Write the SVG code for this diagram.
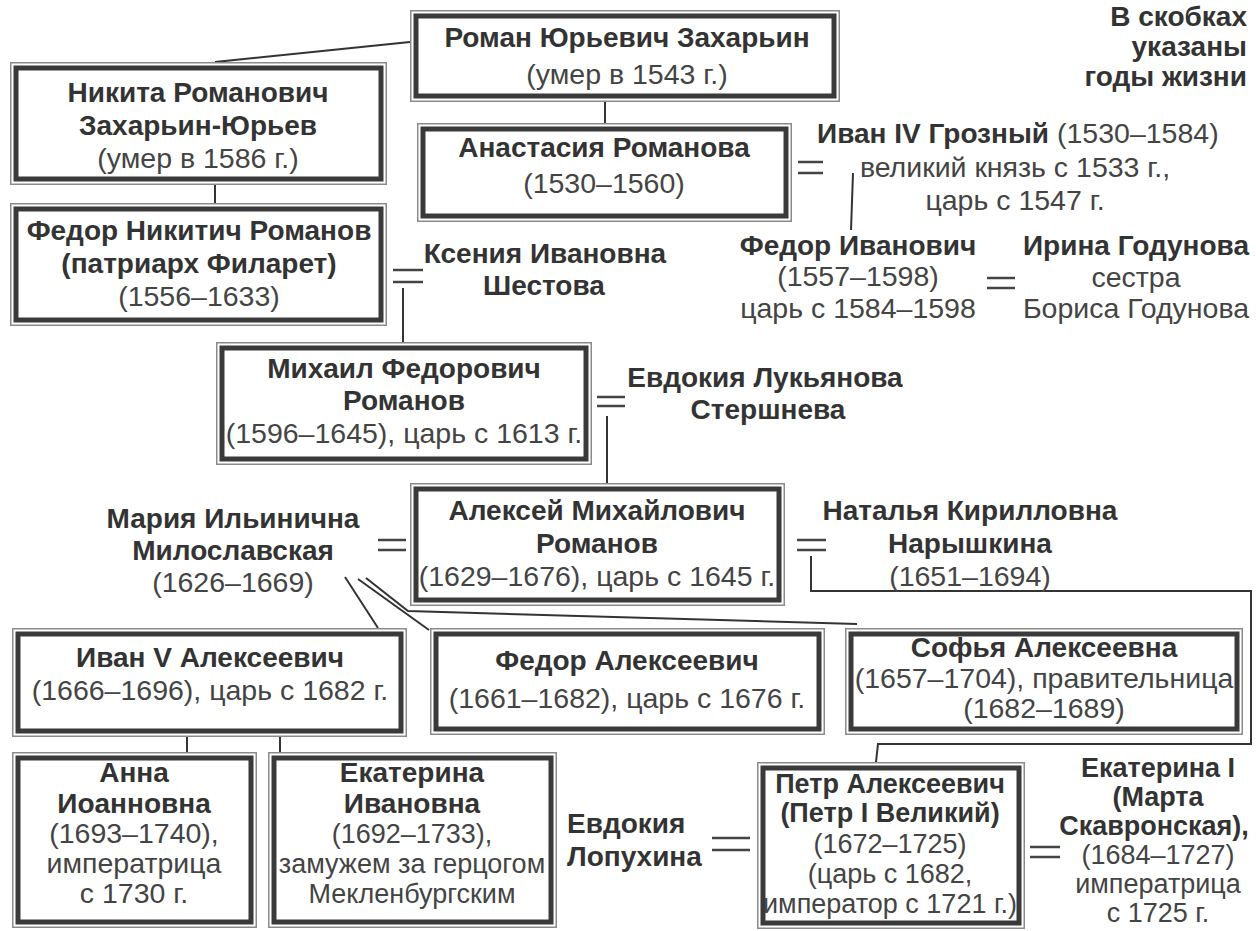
<svg xmlns="http://www.w3.org/2000/svg" width="1256" height="931" viewBox="0 0 1256 931">
<style>
text{font-family:"Liberation Sans",Arial,sans-serif;font-size:28px;fill:#333;text-anchor:middle}
.b{font-weight:bold}
.r{fill:#444;font-size:28.5px}
.t{font-size:27px}
.e{text-anchor:end}
.s{text-anchor:start}
.o{fill:#fff;stroke:#8a8a8a;stroke-width:1.5}
.i{fill:#fff;stroke:#3a3a3a;stroke-width:5}
.c{fill:none;stroke:#333;stroke-width:2}
.eq{stroke:#444;stroke-width:2.5}
</style>
<rect width="1256" height="931" fill="#fff"/>
<g id="connectors">
<path class="c" d="M410,42 L215,62"/>
<path class="c" d="M215,185 V203"/>
<path class="c" d="M605,102 V123"/>
<path class="c" d="M853,173 L851,230"/>
<path class="c" d="M403,288 V342"/>
<path class="c" d="M607,416 V483"/>
<path class="c" d="M345,577 L378,628"/>
<path class="c" d="M358,579 L429,630"/>
<path class="c" d="M366,578 L408,611 L857,624"/>
<path class="c" d="M811,556 V591 H1251 V744 H878 L876,762"/>
<path class="c" d="M187,737 V752"/>
<path class="c" d="M280,737 V756"/>
<g class="eq">
<path d="M798,162 H823 M798,173 H823"/>
<path d="M987,278 H1015 M987,288 H1015"/>
<path d="M393,270 H423 M393,282 H423"/>
<path d="M597,397 H625 M597,406 H625"/>
<path d="M797,540 H826 M797,550 H826"/>
<path d="M378,540 H406 M378,550 H406"/>
<path d="M712,838 H750 M712,850 H750"/>
<path d="M1030,847 H1060 M1030,857 H1060"/>
</g>
</g>
<g id="legend">
<text class="b e" x="1247" y="26">В скобках</text>
<text class="b e" x="1247" y="56">указаны</text>
<text class="b e" x="1247" y="86">годы жизни</text>
</g>
<g id="roman">
<rect class="o" x="410.75" y="10.75" width="428.5" height="90.5"/>
<rect class="i" x="416" y="16" width="418" height="80"/>
<text class="b" x="627" y="47">Роман Юрьевич Захарьин</text>
<text class="r" x="627" y="84">(умер в 1543 г.)</text>
</g>
<g id="nikita">
<rect class="o" x="10.75" y="62.75" width="375.5" height="121.5"/>
<rect class="i" x="16" y="68" width="365" height="111"/>
<text class="b" x="198" y="102">Никита Романович</text>
<text class="b" x="198" y="135">Захарьин-Юрьев</text>
<text class="r" x="198" y="168">(умер в 1586 г.)</text>
</g>
<g id="fedor-nikitich">
<rect class="o" x="10.75" y="203.75" width="375.5" height="121.5"/>
<rect class="i" x="16" y="209" width="365" height="111"/>
<text class="b" x="199" y="240">Федор Никитич Романов</text>
<text class="b" x="199" y="273">(патриарх Филарет)</text>
<text class="r" x="199" y="306">(1556–1633)</text>
</g>
<g id="anastasia">
<rect class="o" x="417.75" y="123.75" width="373.5" height="97.5"/>
<rect class="i" x="423" y="129" width="363" height="87"/>
<text class="b" x="604" y="157">Анастасия Романова</text>
<text class="r" x="604" y="193">(1530–1560)</text>
</g>
<g id="ivan-iv">
<text class="s" x="817" y="143"><tspan class="b">Иван IV Грозный</tspan><tspan class="r"> (1530–1584)</tspan></text>
<text class="r" x="1015" y="177">великий князь с 1533 г.,</text>
<text class="r" x="1015" y="210">царь с 1547 г.</text>
</g>
<g id="fedor-ivanovich">
<text class="b" x="858" y="255">Федор Иванович</text>
<text class="r" x="858" y="286">(1557–1598)</text>
<text class="r" x="858" y="318">царь с 1584–1598</text>
</g>
<g id="irina">
<text class="b" x="1136" y="255">Ирина Годунова</text>
<text class="r" x="1136" y="287">сестра</text>
<text class="r" x="1136" y="318">Бориса Годунова</text>
</g>
<g id="ksenia">
<text class="b" x="545" y="263">Ксения Ивановна</text>
<text class="b" x="544" y="295">Шестова</text>
</g>
<g id="mikhail">
<rect class="o" x="216.75" y="342.75" width="374.5" height="121.5"/>
<rect class="i" x="222" y="348" width="364" height="111"/>
<text class="b" x="404" y="378">Михаил Федорович</text>
<text class="b" x="404" y="410">Романов</text>
<text class="r" x="404" y="443">(1596–1645), царь с 1613 г.</text>
</g>
<g id="evdokia-l">
<text class="b" x="765" y="387">Евдокия Лукьянова</text>
<text class="b" x="768" y="419">Стершнева</text>
</g>
<g id="aleksei">
<rect class="o" x="410.75" y="483.75" width="373.5" height="121.5"/>
<rect class="i" x="416" y="489" width="363" height="111"/>
<text class="b" x="597" y="520">Алексей Михайлович</text>
<text class="b" x="597" y="553">Романов</text>
<text class="r" x="597" y="586">(1629–1676), царь с 1645 г.</text>
</g>
<g id="maria">
<text class="b" x="233" y="528">Мария Ильинична</text>
<text class="b" x="233" y="560">Милославская</text>
<text class="r" x="233" y="592">(1626–1669)</text>
</g>
<g id="natalia">
<text class="b" x="970" y="520">Наталья Кирилловна</text>
<text class="b" x="970" y="553">Нарышкина</text>
<text class="r" x="970" y="586">(1651–1694)</text>
</g>
<g id="ivan-v">
<rect class="o" x="12.75" y="628.75" width="393.5" height="107.5"/>
<rect class="i" x="18" y="634" width="383" height="97"/>
<text class="b" x="210" y="667">Иван V Алексеевич</text>
<text class="r" x="210" y="700">(1666–1696), царь с 1682 г.</text>
</g>
<g id="fedor-alekseevich">
<rect class="o" x="430.75" y="628.75" width="393.5" height="105.5"/>
<rect class="i" x="436" y="634" width="383" height="95"/>
<text class="b" x="627" y="670">Федор Алексеевич</text>
<text class="r" x="627" y="708">(1661–1682), царь с 1676 г.</text>
</g>
<g id="sofia">
<rect class="o" x="845.75" y="628.75" width="396.5" height="105.5"/>
<rect class="i" x="851" y="634" width="386" height="95"/>
<text class="b" x="1044" y="657">Софья Алексеевна</text>
<text class="r" x="1044" y="688">(1657–1704), правительница</text>
<text class="r" x="1044" y="718">(1682–1689)</text>
</g>
<g id="anna">
<rect class="o" x="12.75" y="752.75" width="243.5" height="174.5"/>
<rect class="i" x="18" y="758" width="233" height="164"/>
<text class="b" x="134" y="782">Анна</text>
<text class="b" x="134" y="813">Иоанновна</text>
<text class="r" x="134" y="843">(1693–1740),</text>
<text class="r" x="134" y="873">императрица</text>
<text class="r" x="134" y="903">с 1730 г.</text>
</g>
<g id="ekaterina-ivanovna">
<rect class="o" x="268.75" y="752.75" width="287.5" height="174.5"/>
<rect class="i" x="274" y="758" width="277" height="164"/>
<text class="b" x="412" y="782">Екатерина</text>
<text class="b" x="412" y="813">Ивановна</text>
<text class="r t" x="412" y="843">(1692–1733),</text>
<text class="r t" x="412" y="873">замужем за герцогом</text>
<text class="r t" x="412" y="903">Мекленбургским</text>
</g>
<g id="evdokia-lopukhina">
<text class="b s" x="567" y="833">Евдокия</text>
<text class="b s" x="567" y="866">Лопухина</text>
</g>
<g id="petr">
<rect class="o" x="757.75" y="762.75" width="266.5" height="165.5"/>
<rect class="i" x="763" y="768" width="256" height="155"/>
<text class="b t" x="890" y="793">Петр Алексеевич</text>
<text class="b t" x="890" y="822">(Петр I Великий)</text>
<text class="r t" x="890" y="853">(1672–1725)</text>
<text class="r t" x="890" y="883">(царь с 1682,</text>
<text class="r t" x="890" y="913">император с 1721 г.)</text>
</g>
<g id="ekaterina-i">
<text class="b t" x="1158" y="777">Екатерина I</text>
<text class="b t" x="1158" y="806">(Марта</text>
<text class="b t" x="1154" y="835">Скавронская),</text>
<text class="r t" x="1158" y="864">(1684–1727)</text>
<text class="r t" x="1158" y="893">императрица</text>
<text class="r t" x="1158" y="922">с 1725 г.</text>
</g>
</svg>
